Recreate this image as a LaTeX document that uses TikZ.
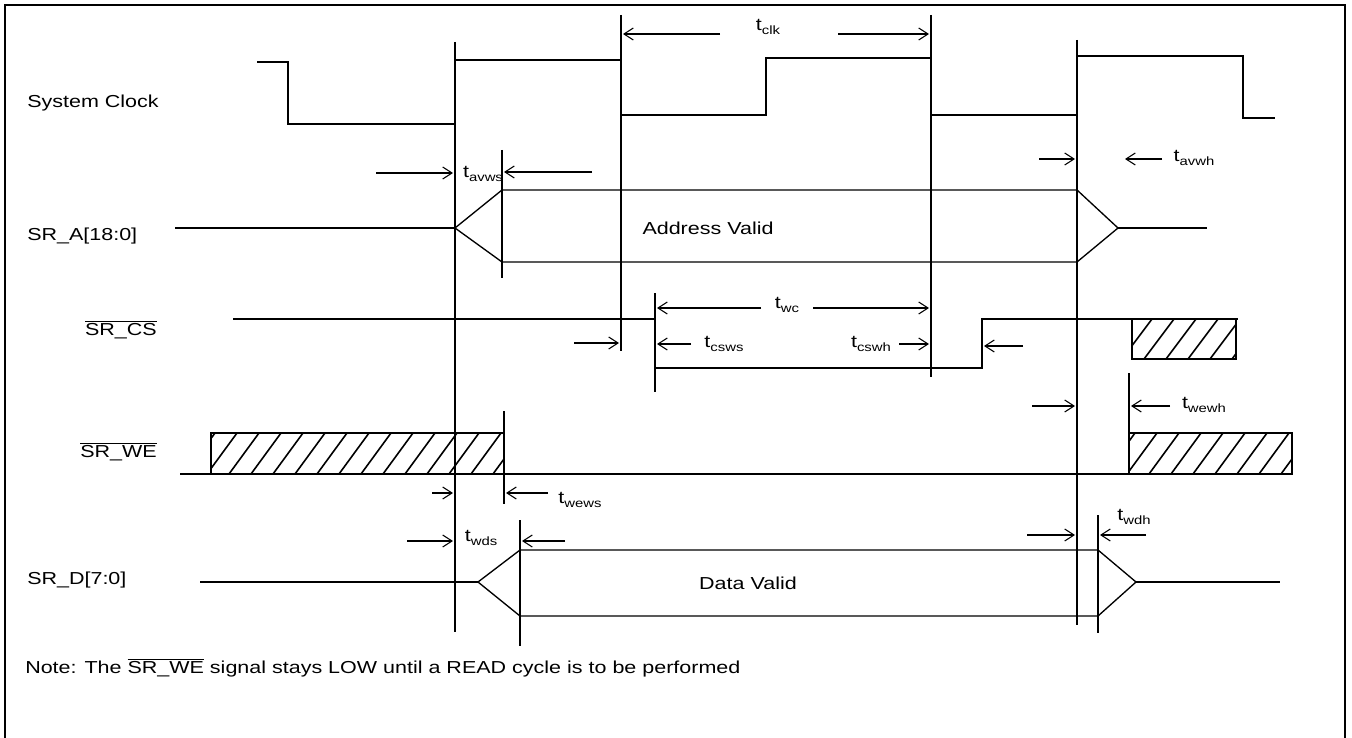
\documentclass[tikz,border=0pt]{standalone}
\usepackage{fontspec}
\setmainfont{Liberation Sans}[FakeStretch=1.24]
\usetikzlibrary{arrows.meta}
\newcommand{\tsub}[1]{t\raisebox{-0.45ex}{\fontsize{9}{10}\selectfont #1}}
\newcommand{\barsig}[1]{$\overline{\mbox{#1}}$}
\begin{document}
\begin{tikzpicture}[x=0.75pt, y=-0.75pt, font=\fontsize{13}{15}\selectfont,
  >={Straight Barb[length=7pt,width=9pt]},
  sig/.style={line width=1pt},
  bus/.style={line width=2.2pt},
  tline/.style={line width=1pt},
  dim/.style={->, line width=0.8pt},
  hatchbox/.style={line width=1.2pt},
  lbl/.style={inner sep=0pt}]
  \useasboundingbox (0,0) rectangle (1352,738);
  \draw[line width=0.8pt] (5,738) -- (5,5) -- (1345,5) -- (1345,738);

  % signal names
  \node[lbl, anchor=west] (lclk) at (27,103) {System Clock};
  \node[lbl, anchor=west] (ladr) at (27,236) {SR\_A[18:0]};
  \node[lbl, anchor=east] (lcs) at (157,330) {\barsig{SR\_CS}};
  \node[lbl, anchor=east] (lwe) at (157,452) {\barsig{SR\_WE}};
  \node[lbl, anchor=west] (ldat) at (27,580) {SR\_D[7:0]};

  % reference lines
  \draw[tline] (455,42) -- (455,632);
  \draw[tline] (621,15) -- (621,351);
  \draw[tline] (931,15) -- (931,377);
  \draw[tline] (1077,40) -- (1077,625);
  \draw[tline] (502,150) -- (502,278);
  \draw[tline] (655,293) -- (655,392);
  \draw[tline] (504,411) -- (504,504);
  \draw[tline] (1129,373) -- (1129,433);
  \draw[tline] (520,520) -- (520,646);
  \draw[tline] (1098,515) -- (1098,633);

  % clock
  \draw[sig] (257,62) -| (288,124) -| (455,60) -| (621,115) -| (766,58) -| (931,115)
    -| (1077,56) -| (1243,118) -- (1275,118);

  % address
  \draw[bus] (175,228) -- (455,228);
  \draw[sig] (455,228) -- (502,190) -- (1077,190) -- (1118,228) -- (1077,262) -- (502,262) -- cycle;
  \draw[bus] (1118,228) -- (1207,228);
  \node[lbl] (adv) at (708,228) {Address Valid};

  % chip select
  \draw[sig] (233,319) -| (655,368) -| (982,319) -- (1238,319);
  \begin{scope}
    \clip (1132,319) rectangle (1236,359);
    \foreach \x in {1100,1122,...,1240} \draw[hatchbox] (\x,359) -- (\x+30,319);
  \end{scope}
  \draw[sig] (1132,319) rectangle (1236,359);

  % write enable
  \draw[sig] (180,474) -- (1292,474);
  \begin{scope}
    \clip (211,433) rectangle (504,474);
    \foreach \x in {185,207,...,510} \draw[hatchbox] (\x,474) -- (\x+30,433);
  \end{scope}
  \draw[sig] (211,433) rectangle (504,474);
  \begin{scope}
    \clip (1129,433) rectangle (1292,474);
    \foreach \x in {1105,1127,...,1300} \draw[hatchbox] (\x,474) -- (\x+30,433);
  \end{scope}
  \draw[sig] (1129,433) rectangle (1292,474);

  % data
  \draw[bus] (200,582) -- (478,582);
  \draw[sig] (478,582) -- (520,550) -- (1098,550) -- (1136,582) -- (1098,616) -- (520,616) -- cycle;
  \draw[bus] (1136,582) -- (1280,582);
  \node[lbl] (dav) at (748,583) {Data Valid};

  % timing parameters
  \node[lbl] (tclk) at (768,27) {\tsub{clk}};
  \draw[dim] (720,34) -- (623,34);
  \draw[dim] (838,34) -- (929,34);

  \node[lbl] (tavws) at (483,174) {\tsub{avws}};
  \draw[dim] (376,173) -- (453,173);
  \draw[dim] (592,172) -- (504,172);

  \node[lbl] (tavwh) at (1194,158) {\tsub{avwh}};
  \draw[dim] (1039,159) -- (1075,159);
  \draw[dim] (1162,159) -- (1125,159);

  \node[lbl] (twc) at (787,305) {\tsub{wc}};
  \draw[dim] (761,308) -- (657,308);
  \draw[dim] (813,308) -- (929,308);

  \node[lbl] (tcsws) at (724,344) {\tsub{csws}};
  \draw[dim] (574,343) -- (619,343);
  \draw[dim] (691,344) -- (657,344);

  \node[lbl] (tcswh) at (871,344) {\tsub{cswh}};
  \draw[dim] (899,344) -- (929,344);
  \draw[dim] (1023,346) -- (984,346);

  \node[lbl] (twewh) at (1204,405) {\tsub{wewh}};
  \draw[dim] (1032,406) -- (1075,406);
  \draw[dim] (1170,406) -- (1131,406);

  \node[lbl] (twews) at (580,500) {\tsub{wews}};
  \draw[dim] (432,493) -- (453,493);
  \draw[dim] (548,493) -- (506,493);

  \node[lbl] (twds) at (481,538) {\tsub{wds}};
  \draw[dim] (407,541) -- (453,541);
  \draw[dim] (565,541) -- (522,541);

  \node[lbl] (twdh) at (1134,517) {\tsub{wdh}};
  \draw[dim] (1027,535) -- (1075,535);
  \draw[dim] (1146,535) -- (1100,535);

  \node[lbl, anchor=west] (note) at (25,668)
    {Note: The \barsig{SR\_WE} signal stays LOW until a READ cycle is to be performed};
\end{tikzpicture}
\end{document}
